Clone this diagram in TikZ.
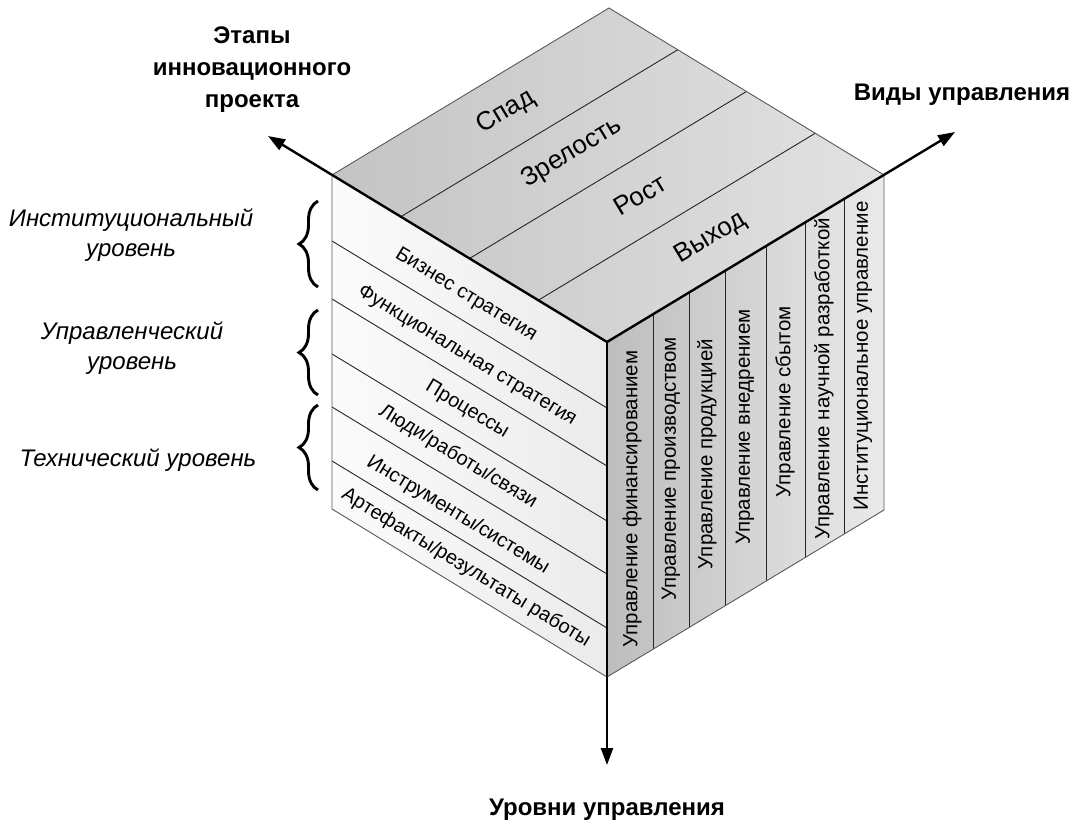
\documentclass[tikz,border=0pt]{standalone}
\usepackage{fontspec}
\setmainfont{Liberation Sans}
\usetikzlibrary{arrows.meta,decorations.pathreplacing,calc}
\definecolor{topL}{HTML}{C4C4C4}
\definecolor{topR}{HTML}{E2E2E2}
\definecolor{leftL}{HTML}{FBFBFB}
\definecolor{leftR}{HTML}{EBEBEB}
\definecolor{rightL}{HTML}{BDBDBD}
\definecolor{rightR}{HTML}{EAEAEA}
\begin{document}
\begin{tikzpicture}[x=1pt,y=-1pt,
  axis/.style={line width=2.4pt, -{Triangle[length=17pt,width=12pt]}},
  cubeedge/.style={line width=0.9pt, draw=black!65},
  divline/.style={line width=0.9pt, draw=black!85},
  leftlbl/.style={font=\fontsize{20}{24}\selectfont, inner sep=0pt, rotate=-31.27},
  toplbl/.style={font=\fontsize{26}{30}\selectfont, inner sep=0pt, rotate=31.08},
  rightlbl/.style={font=\fontsize{20.5}{24}\selectfont, inner sep=0pt, rotate=90},
  axlbl/.style={font=\bfseries\fontsize{24}{32}\selectfont, align=center, inner sep=0pt},
  lvl/.style={font=\itshape\fontsize{24}{30}\selectfont, align=center, inner sep=0pt},
  brc/.style={decorate, decoration={brace, amplitude=19pt}, line width=2.9pt}
]
\useasboundingbox (0,0) rectangle (1079,834);
% cube vertices
\coordinate (F) at (607,342);
\coordinate (L) at (332,175);
\coordinate (R) at (884,175);
\coordinate (T) at (609,8);
\coordinate (B) at (607,677);
\coordinate (LB) at (332,509);
\coordinate (RB) at (884,510);
% axis tips
\coordinate (tipL) at (268,136);
\coordinate (tipR) at (955,132);
\coordinate (tipB) at (607,765);

% faces
\shade[left color=topL, right color=topR] (L) -- (T) -- (R) -- (F) -- cycle;
\shade[left color=leftL, right color=leftR] (L) -- (F) -- (B) -- (LB) -- cycle;
\shade[left color=rightL, right color=rightR] (F) -- (R) -- (RB) -- (B) -- cycle;

% top face dividers
\foreach \t in {0.25,0.5,0.75}
  \draw[divline] ($(L)!\t!(F)$) -- ($(T)!\t!(R)$);
% left face dividers
\foreach \y in {241,299,354,407,461}
  \draw[divline] (332,\y) -- (607,\y+167);
% right face dividers
\foreach \x in {653,689,725,766,805,844}
  \draw[divline] (\x,{342-(\x-607)*0.6029}) -- (\x,{677-(\x-607)*0.6029});

% outer edges
\draw[cubeedge] (L) -- (T) -- (R) -- (RB) -- (B) -- (LB) -- cycle;

% top labels
\node[toplbl] (s1) at (506,112) {Спад};
\node[toplbl] (s2) at (572,153) {Зрелость};
\node[toplbl] (s3) at (640,195) {Рост};
\node[toplbl] (s4) at (711,238) {Выход};

% left labels
\node[leftlbl] (l1) at (466,295) {Бизнес стратегия};
\node[leftlbl] (l2) at (467,356) {Функциональная стратегия};
\node[leftlbl] (l3) at (467,410) {Процессы};
\node[leftlbl] (l4) at (458,457) {Люди/работы/связи};
\node[leftlbl] (l5) at (458,515) {Инструменты/системы};
\node[leftlbl] (l6) at (466,568) {Артефакты/результаты работы};

% right labels
\node[rightlbl] (r1) at (632,499) {Управление финансированием};
\node[rightlbl] (r2) at (671,469) {Управление производством};
\node[rightlbl] (r3) at (707,454) {Управление продукцией};
\node[rightlbl] (r4) at (745,427) {Управление внедрением};
\node[rightlbl] (r5) at (785,402) {Управление сбытом};
\node[rightlbl] (r6) at (824,379) {Управление научной разработкой};
\node[rightlbl] (r7) at (863,356) {Институциональное управление};

% axes
\draw[axis] (F) -- (tipL);
\draw[axis] (F) -- (tipR);
\draw[axis] (F) -- (tipB);

% axis labels
\node[axlbl] (ax1) at (252,70) {Этапы\\инновационного\\проекта};
\node[axlbl] (ax2) at (962,95) {Виды управления};
\node[axlbl] (ax3) at (607,810) {Уровни управления};

% level labels and braces
\node[lvl] (v1) at (131,235) {Институциональный\\уровень};
\node[lvl] (v2) at (132,348) {Управленческий\\уровень};
\node[lvl] (v3) at (138,460) {Технический уровень};
\coordinate (b1a) at (318,287); \coordinate (b1b) at (318,201);
\coordinate (b2a) at (318,395); \coordinate (b2b) at (318,310);
\coordinate (b3a) at (318,490); \coordinate (b3b) at (318,405);
\draw[brc] (b1a) -- (b1b);
\draw[brc] (b2a) -- (b2b);
\draw[brc] (b3a) -- (b3b);
\end{tikzpicture}
\end{document}
